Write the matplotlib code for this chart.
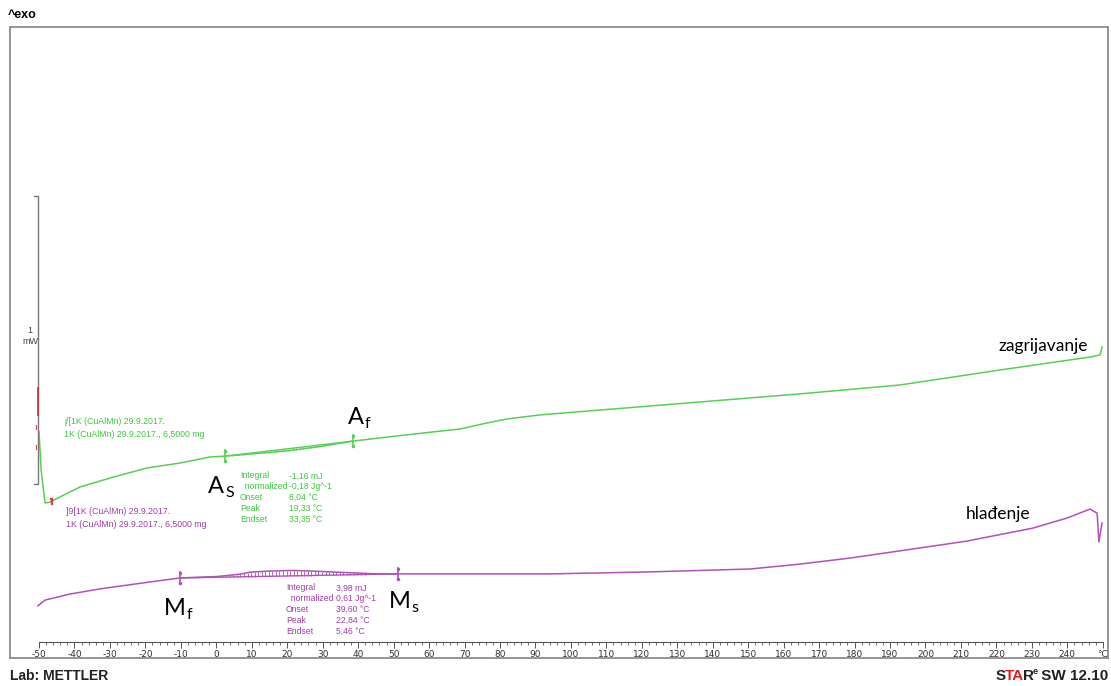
import numpy as np
import matplotlib.pyplot as plt
from matplotlib.ticker import FixedLocator

# heating curve (zagrijavanje), T in degC, heat flow in mW (arbitrary offset)
t_heat = [-50.0, -49.4, -48.3, -46.9, -38.4, -29.1, -19.5, -10.2, -1.8, 2.5,
          10.3, 19.9, 29.2, 38.5, 48.1, 61.1, 68.7, 76.3, 82.0, 91.3,
          108.2, 136.4, 164.6, 192.8, 221.0, 246.4, 249.2, 249.8]
q_heat = [0.785, 0.653, 0.538, 0.542, 0.594, 0.628, 0.660, 0.677, 0.698, 0.701,
          0.709, 0.719, 0.734, 0.753, 0.767, 0.785, 0.795, 0.816, 0.830, 0.844,
          0.861, 0.889, 0.917, 0.948, 1.000, 1.045, 1.052, 1.080]

# cooling curve (hladjenje)
t_cool = [-50.3, -48.3, -41.3, -32.8, -18.7, -10.2, 0.2, 6.7, 9.5, 15.1,
          21.6, 28.4, 37.7, 45.3, 51.2, 65.9, 94.1, 122.3, 150.5, 164.6,
          178.7, 192.8, 211.7, 230.3, 239.9, 246.4, 248.4, 248.9, 249.8]
q_cool = [0.181, 0.201, 0.222, 0.240, 0.264, 0.278, 0.283, 0.291, 0.298, 0.302,
          0.304, 0.301, 0.296, 0.292, 0.292, 0.292, 0.292, 0.299, 0.309, 0.326,
          0.347, 0.372, 0.406, 0.451, 0.486, 0.517, 0.503, 0.403, 0.469]

# integration limits
heat_lim = [2.5, 38.5]   # As, Af
cool_lim = [-10.2, 51.2]  # Mf, Ms

heat_table = [("Integral", "-1,16 mJ"), ("  normalized", "-0,18 Jg^-1"),
              ("Onset", "8,04 °C"), ("Peak", "19,33 °C"), ("Endset", "33,35 °C")]
cool_table = [("Integral", "3,98 mJ"), ("  normalized", "0,61 Jg^-1"),
              ("Onset", "39,60 °C"), ("Peak", "22,84 °C"), ("Endset", "5,46 °C")]

green = '#55d055'
green_txt = '#3cc83c'
purple = '#b050b8'
purple_txt = '#a03ca8'

W, H = 1111, 686
fig = plt.figure(figsize=(W / 100, H / 100), dpi=100)
renderer = fig.canvas.get_renderer()


def fpos(x, y):
    return x / W, 1 - y / H


ax = fig.add_axes([10 / W, 28 / H, 1098 / W, 631 / H])
ax.set_xlim(-58.18, 251.47)
ax.set_ylim(0, 631 / 288)
ax.set_xticks([])
ax.set_yticks([])
for s in ax.spines.values():
    s.set_color('#8c8c8c')
    s.set_linewidth(1.3)

ax.plot(t_heat, q_heat, color=green, lw=1.1)
ax.plot(t_cool, q_cool, color=purple, lw=1.1)

# integration hatching
for lim, tt, qq, col in [(heat_lim, t_heat, q_heat, green), (cool_lim, t_cool, q_cool, purple)]:
    a, b = lim
    qa, qb = np.interp(a, tt, qq), np.interp(b, tt, qq)
    ax.plot([a, b], [qa, qb], color=col, lw=1.0)
    xs = np.arange(a + 1, b, 1.0)
    base = qa + (xs - a) / (b - a) * (qb - qa)
    ax.vlines(xs, base, np.interp(xs, tt, qq), color=col, lw=0.6)
    for x0, q0 in [(a, qa), (b, qb)]:
        ax.plot([x0, x0], [q0 - 0.022, q0 + 0.022], color=col, lw=1.2)
        ax.plot([x0, x0], [q0 - 0.018, q0 + 0.018], ls='none', marker='.', ms=3, color=col)

# 1 mW scale bracket
ax.plot([-51.4, -50.3, -50.3, -51.4], [1.604, 1.604, 0.604, 0.604], color='#777777', lw=1.0)
ax.plot([-50.3, -50.3], [0.844, 0.9375], color='#d03030', lw=1.2)
ax.plot([-50.8, -50.8], [0.795, 0.81], color='#e04040', lw=0.8)
ax.plot([-50.8, -50.8], [0.726, 0.741], color='#e04040', lw=0.8)
ax.plot([-46.6], [0.545], marker='$\\rceil$', ms=4, color='#e04040')

# ruler axis inside the frame
ax2 = fig.add_axes([10 / W, (686 - 642) / H, 1098 / W, 0.0001])
ax2.set_xlim(ax.get_xlim())
ax2.patch.set_visible(False)
for k in ['top', 'left', 'right']:
    ax2.spines[k].set_visible(False)
ax2.spines['bottom'].set_bounds(-50, 250)
ax2.spines['bottom'].set_color('#555555')
ax2.spines['bottom'].set_linewidth(0.8)
ax2.set_yticks([])
ticks = list(range(-50, 251, 10))
ax2.set_xticks(ticks)
ax2.set_xticklabels([str(t) for t in ticks[:-1]] + ['°C'])
ax2.xaxis.set_minor_locator(FixedLocator(np.arange(-50, 251, 2)))
ax2.tick_params(axis='x', which='major', length=4, width=0.7, color='#555555',
                labelsize=6.5, labelcolor='#333333', pad=2)
ax2.tick_params(axis='x', which='minor', length=2.5, width=0.6, color='#555555')

small = ['Liberation Sans', 'DejaVu Sans']
cal = ['Lato', 'DejaVu Sans']

fig.text(*fpos(8, 15), '^exo', fontsize=9, fontweight='bold', family='Liberation Sans', va='center')
fig.text(*fpos(30, 336), '1\nmW', fontsize=6.5, color='#444444', ha='center', va='center',
         family=small, linespacing=1.3)

fig.text(*fpos(64, 428), 'j/[1K (CuAlMn) 29.9.2017.\n1K (CuAlMn) 29.9.2017., 6,5000 mg',
         fontsize=6.3, color=green_txt, va='center', family=small, linespacing=1.45)
fig.text(*fpos(66, 518), ']9[1K (CuAlMn) 29.9.2017.\n1K (CuAlMn) 29.9.2017., 6,5000 mg',
         fontsize=6.3, color=purple_txt, va='center', family=small, linespacing=1.45)

for i, (lab, val) in enumerate(heat_table):
    fig.text(*fpos(240, 476 + i * 10.8), lab, fontsize=6.2, color=green_txt, va='center', family=small)
    fig.text(*fpos(289, 476 + i * 10.8), val, fontsize=6.2, color=green_txt, va='center', family=small)
for i, (lab, val) in enumerate(cool_table):
    fig.text(*fpos(286, 588 + i * 10.8), lab, fontsize=6.2, color=purple_txt, va='center', family=small)
    fig.text(*fpos(336, 588 + i * 10.8), val, fontsize=6.2, color=purple_txt, va='center', family=small)

# transition labels
for main, sub, x, y in [('A', 'S', 208, 493), ('A', 'f', 348, 424),
                        ('M', 'f', 164, 615), ('M', 's', 389, 608)]:
    t = fig.text(*fpos(x, y), main, fontsize=17, family=cal, va='baseline')
    xr = t.get_window_extent(renderer).x1
    fig.text((xr + 1) / W, 1 - (y + 4) / H, sub, fontsize=11.5, family=cal, va='baseline')

fig.text(*fpos(1088, 346), 'zagrijavanje', fontsize=12.5, family=cal, ha='right', va='center')
fig.text(*fpos(1030, 514), 'hlađenje', fontsize=12.5, family=cal, ha='right', va='center')

fig.text(*fpos(10, 676), 'Lab: METTLER', fontsize=10, fontweight='bold',
         family='Liberation Sans', va='center', color='#222222')

# STARe SW 12.10 logo, laid out right to left from the frame edge
parts = [(' SW 12.10', '#222222', 11, 676), ('e', '#222222', 6.5, 671),
         ('R', '#222222', 11, 676), ('TA', '#e02020', 11, 676), ('S', '#222222', 11, 676)]
xcur = 1108
for txt, c, fs, yy in parts:
    tt = fig.text(*fpos(xcur, yy), txt, fontsize=fs, fontweight='bold',
                  family='Liberation Sans', va='center', ha='right', color=c)
    xcur = tt.get_window_extent(renderer).x0 + 1

fig.savefig('out.png', dpi=100)
